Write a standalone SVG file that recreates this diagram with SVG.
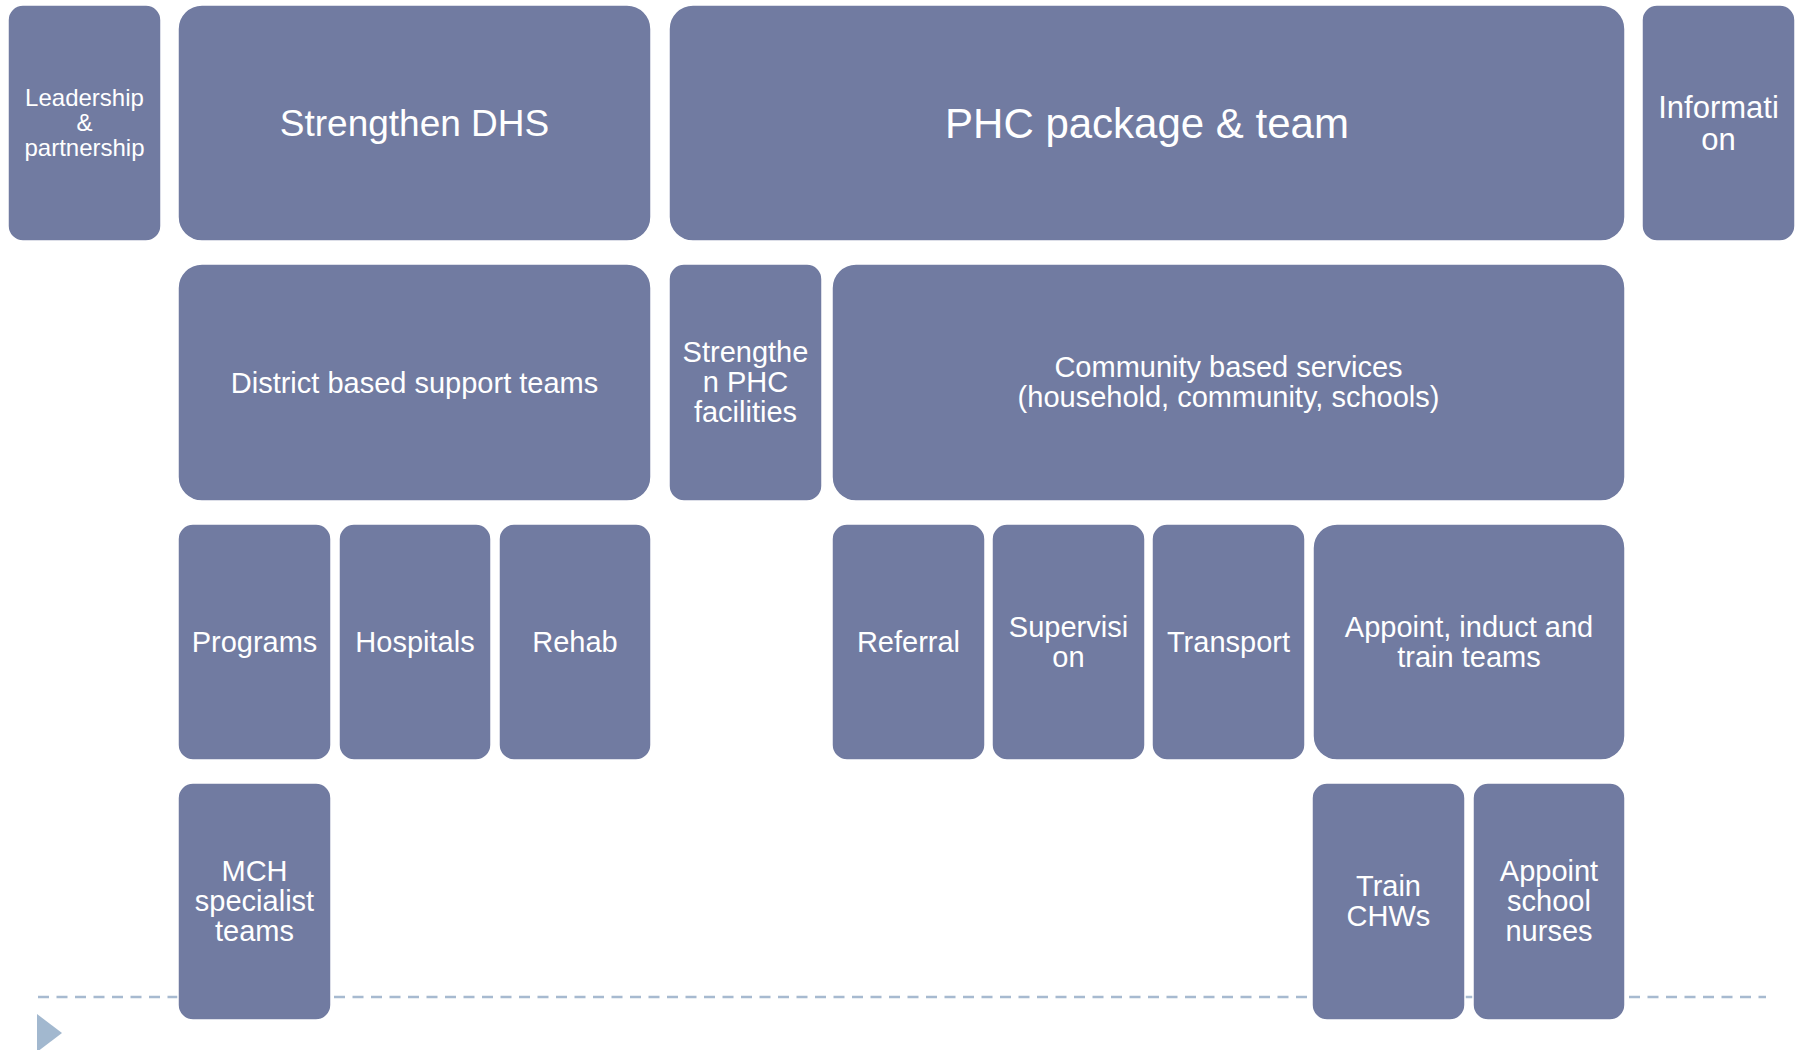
<svg xmlns="http://www.w3.org/2000/svg" width="1803" height="1050" viewBox="0 0 1803 1050">
<style>
.b{fill:#717BA1;stroke:#ffffff;stroke-width:1.5}
.t{fill:#ffffff;font-family:"Liberation Sans",Arial,sans-serif;font-size:29px;text-anchor:middle}
</style>
<rect width="1803" height="1050" fill="#ffffff"/>
<g id="connectors">
<line x1="38" y1="997" x2="1766" y2="997" stroke="#A7BAD0" stroke-width="2.5" stroke-dasharray="11 7.5"/>
<polygon points="37,1014 62,1033 37,1052" fill="#A2B8CF"/>
</g>
<g id="lead"><rect class="b" x="8" y="5" width="153" height="236" rx="15"/>
<text class="t" style="font-size:24px" x="84.5" y="106">Leadership</text>
<text class="t" style="font-size:24px" x="84.5" y="131">&amp;</text>
<text class="t" style="font-size:24px" x="84.5" y="156">partnership</text></g>
<g id="dhs"><rect class="b" x="178" y="5" width="473" height="236" rx="24"/>
<text class="t" style="font-size:37px" x="414.5" y="136">Strengthen DHS</text></g>
<g id="phc"><rect class="b" x="669" y="5" width="956" height="236" rx="24"/>
<text class="t" style="font-size:42px" x="1147" y="138">PHC package &amp; team</text></g>
<g id="info"><rect class="b" x="1642" y="5" width="153" height="236" rx="15"/>
<text class="t" style="font-size:31px" x="1718.5" y="118">Informati</text>
<text class="t" style="font-size:31px" x="1718.5" y="150">on</text></g>
<g id="district"><rect class="b" x="178" y="264" width="473" height="237" rx="24"/>
<text class="t" x="414.5" y="393">District based support teams</text></g>
<g id="sphc"><rect class="b" x="669" y="264" width="153" height="237" rx="15"/>
<text class="t" x="745.5" y="362">Strengthe</text>
<text class="t" x="745.5" y="392">n PHC</text>
<text class="t" x="745.5" y="422">facilities</text></g>
<g id="community"><rect class="b" x="832" y="264" width="793" height="237" rx="24"/>
<text class="t" x="1228.5" y="377">Community based services</text>
<text class="t" x="1228.5" y="407">(household, community, schools)</text></g>
<g id="programs"><rect class="b" x="178" y="524" width="153" height="236" rx="15"/>
<text class="t" x="254.5" y="652">Programs</text></g>
<g id="hospitals"><rect class="b" x="339" y="524" width="152" height="236" rx="15"/>
<text class="t" x="415" y="652">Hospitals</text></g>
<g id="rehab"><rect class="b" x="499" y="524" width="152" height="236" rx="15"/>
<text class="t" x="575" y="652">Rehab</text></g>
<g id="referral"><rect class="b" x="832" y="524" width="153" height="236" rx="15"/>
<text class="t" x="908.5" y="652">Referral</text></g>
<g id="supervision"><rect class="b" x="992" y="524" width="153" height="236" rx="15"/>
<text class="t" x="1068.5" y="637">Supervisi</text>
<text class="t" x="1068.5" y="667">on</text></g>
<g id="transport"><rect class="b" x="1152" y="524" width="153" height="236" rx="15"/>
<text class="t" x="1228.5" y="652">Transport</text></g>
<g id="appoint"><rect class="b" x="1313" y="524" width="312" height="236" rx="24"/>
<text class="t" x="1469" y="637">Appoint, induct and</text>
<text class="t" x="1469" y="667">train teams</text></g>
<g id="mch"><rect class="b" x="178" y="783" width="153" height="237" rx="15"/>
<text class="t" x="254.5" y="881">MCH</text>
<text class="t" x="254.5" y="911">specialist</text>
<text class="t" x="254.5" y="941">teams</text></g>
<g id="chw"><rect class="b" x="1312" y="783" width="153" height="237" rx="15"/>
<text class="t" x="1388.5" y="896">Train</text>
<text class="t" x="1388.5" y="926">CHWs</text></g>
<g id="nurses"><rect class="b" x="1473" y="783" width="152" height="237" rx="15"/>
<text class="t" x="1549" y="881">Appoint</text>
<text class="t" x="1549" y="911">school</text>
<text class="t" x="1549" y="941">nurses</text></g>
</svg>
